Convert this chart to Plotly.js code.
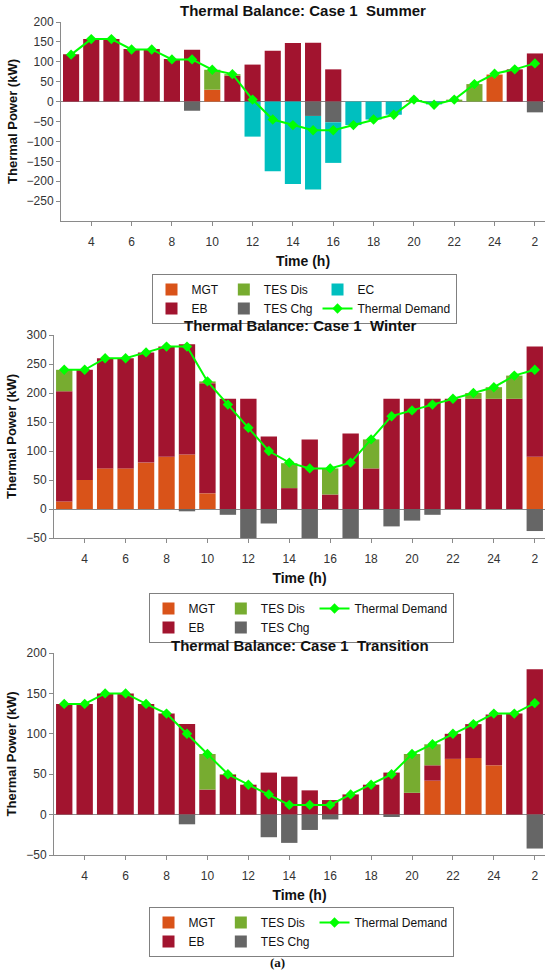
<!DOCTYPE html>
<html>
<head>
<meta charset="utf-8">
<script src="https://cdn.plot.ly/plotly-3.0.1.min.js"></script>
<style>html,body{margin:0;padding:0;background:#fff;}#chart{width:550px;height:973px;}</style>
</head>
<body>
<div id="chart"></div>
<script>
// Hours (x positions); 25 and 26 are 1 and 2 of the next day
var hours = [3,4,5,6,7,8,9,10,11,12,13,14,15,16,17,18,19,20,21,22,23,24,25,26];
var tickVals = [4,6,8,10,12,14,16,18,20,22,24,26];
var tickText = ['4','6','8','10','12','14','16','18','20','22','24','2'];

// Summer
var mgtSummer    = [0,0,0,0,0,0,0,30,0,0,0,0,0,0,0,0,0,0,0,0,0,68,0,0];
var ebSummer     = [119,157,157,132,132,107,130,0,65,93,128,147,148,81,0,0,0,0,0,0,0,0,81,121];
var tesDisSummer = [0,0,0,0,0,0,0,50,4,0,0,0,0,0,0,0,0,4,0,5,44,0,0,0];
var tesChgSummer = [0,0,0,0,0,0,-23,0,0,0,0,0,-36,-52,0,0,0,0,0,0,0,0,0,-27];
var ecSummer     = [0,0,0,0,0,0,0,0,0,-88,-175,-207,-185,-102,-59,-45,-33,0,-7,0,0,0,0,0];
var demandSummer = [118,157,157,131,131,106,106,80,69,5,-45,-59,-72,-72,-59,-45,-33,5,-8,5,44,70,81,96];

// Winter
var mgtWinter    = [13,50,70,70,80,90,94,27,0,0,0,0,0,0,0,0,0,0,0,0,0,0,0,90];
var ebWinter     = [190,190,190,190,190,190,190,190,190,190,125,36,120,25,130,70,190,190,190,190,190,190,190,190];
var tesDisWinter = [37,0,0,0,0,0,0,3,0,0,0,43,0,45,0,50,0,0,0,0,10,20,40,0];
var tesChgWinter = [0,0,0,0,0,0,-4,0,-10,-50,-25,0,-50,0,-50,0,-30,-20,-10,0,0,0,0,-38];
var demandWinter = [240,240,260,260,270,280,280,220,180,140,100,80,70,70,80,120,160,170,180,190,200,210,230,240];

// Transition
var mgtTrans    = [0,0,0,0,0,0,0,0,0,0,0,0,0,0,0,0,0,0,42,69,70,61,0,0];
var ebTrans     = [137,137,150,150,137,125,112,31,49,37,52,47,30,18,25,37,52,27,19,31,42,63,125,180];
var tesDisTrans = [0,0,0,0,0,0,0,44,1,0,0,0,0,0,0,0,0,48,26,0,0,0,0,0];
var tesChgTrans = [0,0,0,0,0,0,-12,0,0,0,-28,-35,-19,-6,0,0,-3,0,0,0,0,0,0,-42];
var demandTrans = [137,137,150,150,137,125,100,75,50,37,25,12,12,12,25,37,50,75,87,100,112,125,125,138];

var colors = {MGT:'#D95319', EB:'#A2142F', 'TES Dis':'#77AC30', 'TES Chg':'#666666', EC:'#00BFBF', 'Thermal Demand':'#00FF00'};
var groups = {MGT:'g1', EB:'g1', 'TES Dis':'g2', 'TES Chg':'g2', EC:'g3', 'Thermal Demand':'g3'};

var FONT = 'Liberation Sans, Arial, Helvetica, sans-serif';

function barTrace(name, vals, sub) {
  return {
    type:'bar', name:name, x:hours, y:vals,
    xaxis:'x'+sub.ax, yaxis:'y'+sub.ax, legend:sub.legend,
    legendgroup:sub.key+groups[name],
    marker:{color:colors[name], line:{width:0}},
    hoverinfo:'x+y+name'
  };
}
function lineTrace(vals, sub) {
  return {
    type:'scatter', mode:'lines+markers', name:'Thermal Demand', x:hours, y:vals,
    xaxis:'x'+sub.ax, yaxis:'y'+sub.ax, legend:sub.legend,
    legendgroup:sub.key+'g3',
    line:{color:colors['Thermal Demand'], width:2},
    marker:{symbol:'diamond', size:8, color:colors['Thermal Demand']}
  };
}

var S = {ax:'', legend:'legend', key:'s'};
var W = {ax:'2', legend:'legend2', key:'w'};
var T = {ax:'3', legend:'legend3', key:'t'};

var data = [
  barTrace('MGT', mgtSummer, S), barTrace('EB', ebSummer, S), barTrace('TES Dis', tesDisSummer, S),
  barTrace('TES Chg', tesChgSummer, S), barTrace('EC', ecSummer, S), lineTrace(demandSummer, S),
  barTrace('MGT', mgtWinter, W), barTrace('EB', ebWinter, W), barTrace('TES Dis', tesDisWinter, W),
  barTrace('TES Chg', tesChgWinter, W), lineTrace(demandWinter, W),
  barTrace('MGT', mgtTrans, T), barTrace('EB', ebTrans, T), barTrace('TES Dis', tesDisTrans, T),
  barTrace('TES Chg', tesChgTrans, T), lineTrace(demandTrans, T)
];

var W0 = 550, H0 = 973;
function px(x){ return x / W0; }
function py(y){ return 1 - y / H0; }

function xax(left, anchor) {
  return {
    domain:[px(left), px(545)], anchor:anchor, range:[2.5, 26.5],
    tickmode:'array', tickvals:tickVals, ticktext:tickText,
    ticks:'outside', ticklen:4, tickcolor:'#8a8a8a', tickwidth:1,
    showline:true, linecolor:'#8a8a8a', linewidth:1, mirror:false,
    showgrid:false, zeroline:false,
    tickfont:{family:FONT, size:12, color:'#333'}, ticklabelstandoff:6,
    title:{text:'Time (h)', font:{family:FONT, size:14, color:'#111', weight:'bold'}, standoff:7}
  };
}
function yax(top, bottom, anchor, range, ticks) {
  return {
    domain:[py(bottom), py(top)], anchor:anchor, range:range,
    tickmode:'array', tickvals:ticks,
    ticks:'outside', ticklen:4, tickcolor:'#8a8a8a', tickwidth:1,
    showline:true, linecolor:'#8a8a8a', linewidth:1, mirror:false,
    showgrid:false, zeroline:true, zerolinecolor:'#8a8a8a', zerolinewidth:1,
    tickfont:{family:FONT, size:12, color:'#333'},
    title:{text:'Thermal Power (kW)', font:{family:FONT, size:13, color:'#111', weight:'bold'}, standoff:6}
  };
}
function legendAt(xc, top) {
  return {
    x:px(xc), xanchor:'center', y:py(top), yanchor:'top',
    orientation:'h', traceorder:'grouped', tracegroupgap:0,
    bordercolor:'#808080', borderwidth:1, bgcolor:'#ffffff',
    font:{family:FONT, size:12, color:'#111'}, itemwidth:30
  };
}
function titleAnn(text, xc, yc) {
  return {text:text, x:px(xc), y:py(yc), xref:'paper', yref:'paper', xanchor:'center', yanchor:'middle',
          showarrow:false, font:{family:FONT, size:15, color:'#111', weight:'bold'}};
}

var layout = {
  width:W0, height:H0, margin:{l:0, r:0, t:0, b:0},
  paper_bgcolor:'#ffffff', plot_bgcolor:'#ffffff',
  barmode:'relative', bargap:0.2,
  showlegend:true, hovermode:'closest',
  font:{family:FONT, color:'#333'},
  xaxis:xax(61, 'y'),
  yaxis:yax(22, 221, 'x', [-300, 200], [-250,-200,-150,-100,-50,0,50,100,150,200]),
  xaxis2:xax(54, 'y2'),
  yaxis2:yax(335, 538, 'x2', [-50, 300], [-50,0,50,100,150,200,250,300]),
  xaxis3:xax(54, 'y3'),
  yaxis3:yax(653, 855, 'x3', [-50, 200], [-50,0,50,100,150,200]),
  legend:legendAt(304, 274),
  legend2:legendAt(301, 593),
  legend3:legendAt(301, 907),
  annotations:[
    titleAnn('Thermal Balance: Case 1\u00A0 Summer', 303, 11),
    titleAnn('Thermal Balance: Case 1\u00A0 Winter', 300, 325),
    titleAnn('Thermal Balance: Case 1\u00A0 Transition', 300, 645),
    {text:'(a)', x:px(277), y:py(962), xref:'paper', yref:'paper', xanchor:'center', yanchor:'middle',
     showarrow:false, font:{family:'Liberation Serif, Times New Roman, serif', size:13, color:'#111', weight:'bold'}}
  ]
};

Plotly.newPlot('chart', data, layout, {displayModeBar:false, staticPlot:true});
</script>
</body>
</html>
